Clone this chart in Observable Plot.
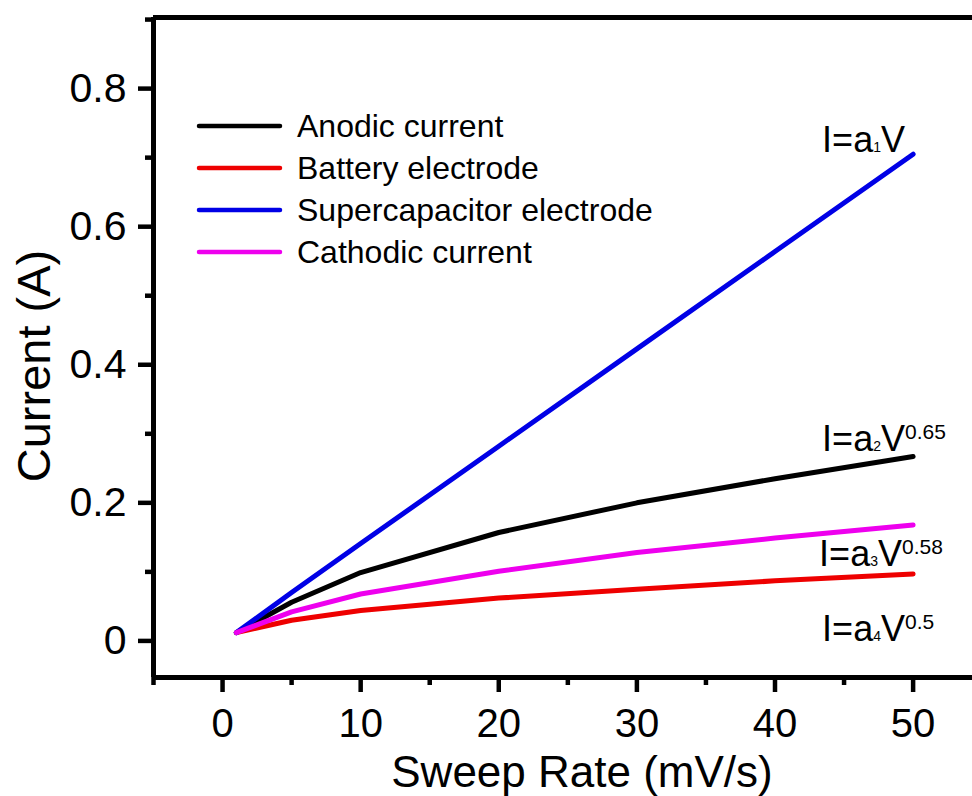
<!DOCTYPE html>
<html>
<head>
<meta charset="utf-8">
<script src="https://cdn.jsdelivr.net/npm/d3@7"></script>
<script src="https://cdn.jsdelivr.net/npm/@observablehq/plot@0.6"></script>
<style>
  html, body { margin: 0; padding: 0; background: #fff; }
  #chart { width: 972px; height: 796px; overflow: hidden; }
  #chart svg { display: block; font-family: "Liberation Sans", Arial, sans-serif; }
</style>
</head>
<body>
<div id="chart"></div>
<script>
// ---- data ----
const rates = [1, 5, 10, 20, 30, 40, 50];                       // mV/s
const anodicCurrent     = [0.012, 0.056, 0.099, 0.157, 0.200, 0.235, 0.267];
const batteryElectrode  = [0.012, 0.030, 0.044, 0.062, 0.075, 0.087, 0.097];
const supercapElectrode = [0.012, 0.070, 0.141, 0.282, 0.423, 0.564, 0.705];
const cathodicCurrent   = [0.012, 0.042, 0.068, 0.101, 0.128, 0.149, 0.168];

const seriesNames  = ["Anodic current", "Battery electrode", "Supercapacitor electrode", "Cathodic current"];
const seriesValues = [anodicCurrent, batteryElectrode, supercapElectrode, cathodicCurrent];
const seriesColors = ["#000000", "#ee0000", "#0000e6", "#ee00ee"];

const xTicks      = [0, 10, 20, 30, 40, 50];
const xMinorTicks = [-5, 5, 15, 25, 35, 45];
const yTicks      = [0, 0.2, 0.4, 0.6, 0.8];
const yMinorTicks = [0.1, 0.3, 0.5, 0.7, 0.9];
const xDomain = [-5, 54.3];
const yDomain = [-0.053, 0.903];

const xTitle = "Sweep Rate (mV/s)";
const yTitle = "Current (A)";

// fit labels: I=a_n V^p
const fitLabels = [
  {series: "Supercapacitor electrode", base: "I=a", sub: "1", tail: "V", sup: ""},
  {series: "Anodic current",           base: "I=a", sub: "2", tail: "V", sup: "0.65"},
  {series: "Cathodic current",         base: "I=a", sub: "3", tail: "V", sup: "0.58"},
  {series: "Battery electrode",        base: "I=a", sub: "4", tail: "V", sup: "0.5"}
];

// ---- layout (offsets of fit labels from each series' last point, px) ----
const labelOffsets = {
  "Supercapacitor electrode": {dx: -91, dy: -2},
  "Anodic current":           {dx: -91, dy: -6},
  "Cathodic current":         {dx: -94, dy: 41},
  "Battery electrode":        {dx: -91, dy: 67}
};

const rows = seriesNames.map((name, i) =>
  rates.map((r, j) => ({series: name, rate: r, current: seriesValues[i][j]})));

const fullLabel = l => l.base + l.sub + l.tail + l.sup;
const lastPoint = name => {
  const i = seriesNames.indexOf(name);
  return {rate: rates[rates.length - 1], current: seriesValues[i][rates.length - 1]};
};

const W = 972, H = 796;
const axisStroke = 4.5;

const chart = Plot.plot({
  width: W,
  height: H,
  marginLeft: 153,
  marginRight: 0,
  marginTop: 17,
  marginBottom: 119,
  style: {fontFamily: '"Liberation Sans", Arial, sans-serif', color: "#000", background: "#fff"},
  x: {domain: xDomain},
  y: {domain: yDomain},
  marks: [
    // frame: top, left, bottom
    Plot.ruleY([yDomain[1]], {stroke: "#000", strokeWidth: 5}),
    Plot.ruleY([yDomain[0]], {stroke: "#000", strokeWidth: 5}),
    Plot.ruleX([xDomain[0]], {stroke: "#000", strokeWidth: 5}),
    // axes
    Plot.axisX({ticks: xTicks, tickSize: 15, tickPadding: 16, fontSize: 40, strokeWidth: axisStroke, label: null, tickFormat: d => String(d)}),
    Plot.axisX({ticks: xMinorTicks, tickSize: 8, text: null, strokeWidth: axisStroke, label: null}),
    Plot.axisY({ticks: yTicks, tickSize: 15, tickPadding: 12, fontSize: 41, strokeWidth: axisStroke, label: null,
                tickFormat: d => d === 0 ? "0" : d.toFixed(1)}),
    Plot.axisY({ticks: yMinorTicks, tickSize: 8, text: null, strokeWidth: axisStroke, label: null}),
    // series
    ...rows.map((data, i) => Plot.line(data, {
      x: "rate", y: "current", stroke: seriesColors[i], strokeWidth: 5,
      strokeLinecap: "round", strokeLinejoin: "round"
    })),
    // fit labels
    ...fitLabels.map(l => Plot.text([lastPoint(l.series)], {
      x: "rate", y: "current", text: () => fullLabel(l),
      textAnchor: "start", lineAnchor: "bottom", fontSize: 36, fill: "#000",
      dx: labelOffsets[l.series].dx, dy: labelOffsets[l.series].dy
    }))
  ]
});

const svg = d3.select(chart);

// rich text for fit labels (subscript / superscript)
svg.selectAll("text").each(function() {
  const lab = fitLabels.find(l => fullLabel(l) === this.textContent);
  if (!lab) return;
  const t = d3.select(this);
  t.text(null);
  t.append("tspan").text(lab.base);
  t.append("tspan").attr("font-size", 14).text(lab.sub);
  t.append("tspan").text(lab.tail);
  if (lab.sup) t.append("tspan").attr("font-size", 21).attr("dy", -12).text(lab.sup);
});

// axis titles
svg.append("text")
  .attr("x", 582).attr("y", 787)
  .attr("text-anchor", "middle")
  .attr("font-size", 44)
  .attr("fill", "#000")
  .text(xTitle);

svg.append("text")
  .attr("transform", "translate(50,366) rotate(-90)")
  .attr("text-anchor", "middle")
  .attr("font-size", 47)
  .attr("fill", "#000")
  .text(yTitle);

// legend
const legend = svg.append("g").attr("font-size", 32).attr("fill", "#000").attr("text-anchor", "start");
seriesNames.forEach((name, i) => {
  const cy = 126 + 42 * i;
  legend.append("line")
    .attr("x1", 199).attr("x2", 280).attr("y1", cy).attr("y2", cy)
    .attr("stroke", seriesColors[i]).attr("stroke-width", 4.5).attr("stroke-linecap", "round");
  legend.append("text")
    .attr("x", 297).attr("y", cy + 11)
    .attr("text-anchor", "start")
    .text(name);
});

document.getElementById("chart").appendChild(chart);
</script>
</body>
</html>
